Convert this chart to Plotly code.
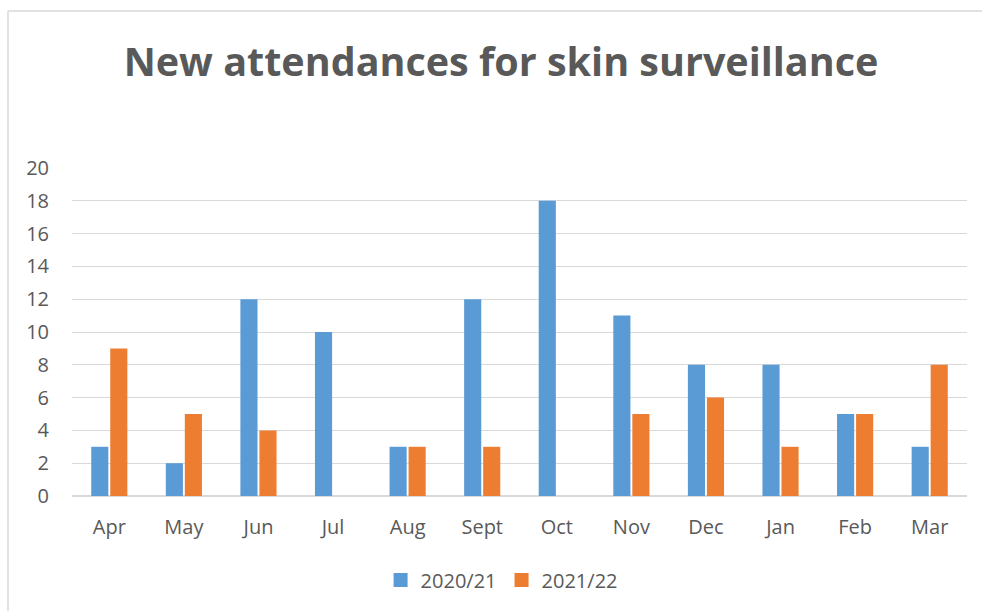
import plotly.graph_objects as go

months = ["Apr", "May", "Jun", "Jul", "Aug", "Sept", "Oct", "Nov", "Dec", "Jan", "Feb", "Mar"]
attend_2020_21 = [3, 2, 12, 10, 3, 12, 18, 11, 8, 8, 5, 3]
attend_2021_22 = [9, 5, 4, 0, 3, 3, 0, 5, 6, 3, 5, 8]
y_ticks = list(range(0, 21, 2))

TEXT = "#595959"
GRID = "#d9d9d9"
BLUE = "#5B9BD5"
ORANGE = "#ED7D31"
FONT = "Open Sans, Liberation Sans, sans-serif"

W, H = 982, 611
L, R, T, B = 72, 15, 168, 115
plot_w = W - L - R
plot_h = H - T - B

fig = go.Figure()
series = [("2020/21", attend_2020_21, BLUE), ("2021/22", attend_2021_22, ORANGE)]
for name, values, color in series:
    fig.add_trace(go.Bar(x=months, y=values, name=name, showlegend=False, marker=dict(color=color, line=dict(width=0))))
# square legend swatches like the original
for name, values, color in series:
    fig.add_trace(go.Scatter(x=[None], y=[None], mode="markers", name=name, marker=dict(symbol="square", size=14, color=color)))

x_left = (8 - L) / plot_w
y_top = 1 + (T - 11) / plot_h
fig.update_layout(
    width=W,
    height=H,
    margin=dict(l=L, r=R, t=T, b=B),
    paper_bgcolor="white",
    plot_bgcolor="white",
    barmode="group",
    bargap=0.49,
    bargroupgap=0.1,
    font=dict(family=FONT, color=TEXT, size=20),
    title=dict(
        text="<b>New attendances for skin surveillance</b>",
        x=501 / W,
        xanchor="center",
        xref="container",
        y=1 - 62 / H,
        yanchor="middle",
        font=dict(family=FONT, size=39.5, color=TEXT),
    ),
    legend=dict(
        orientation="h",
        x=0.48,
        xanchor="center",
        y=-(580 - 496) / plot_h,
        yanchor="middle",
        font=dict(size=20, color=TEXT),
        itemwidth=30,
        traceorder="normal",
    ),
    showlegend=True,
    xaxis=dict(
        showgrid=False,
        showline=False,
        ticks="",
        tickfont=dict(size=20, color=TEXT),
        ticklabelstandoff=17,
    ),
    yaxis=dict(
        range=[0, 20],
        tickvals=y_ticks,
        showgrid=True,
        gridcolor=GRID,
        gridwidth=1,
        zeroline=True,
        zerolinecolor=GRID,
        zerolinewidth=1.5,
        showline=False,
        ticks="",
        tickfont=dict(size=20, color=TEXT),
        ticklabelstandoff=22,
    ),
    shapes=[
        dict(type="line", xref="paper", yref="paper", x0=x_left, x1=x_left, y0=-0.5, y1=y_top,
             line=dict(color=GRID, width=1.5), layer="below"),
        dict(type="line", xref="paper", yref="paper", x0=x_left, x1=1.05, y0=y_top, y1=y_top,
             line=dict(color=GRID, width=1.5), layer="below"),
    ],
)

fig.write_html(
    "out.html",
    config={"displayModeBar": False},
    post_script=(
        "document.body.style.margin='0';document.body.style.overflow='hidden';"
        "document.documentElement.style.overflow='hidden';"
    ),
)
